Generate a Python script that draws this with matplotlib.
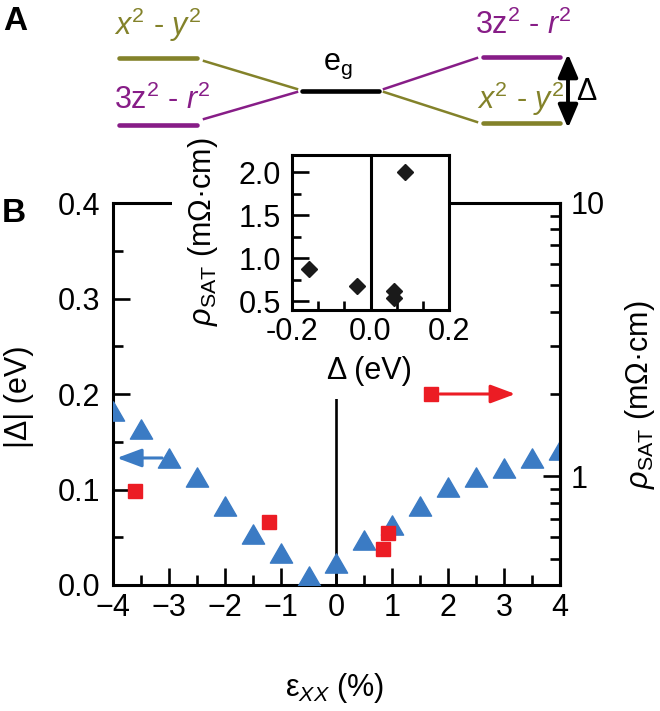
import matplotlib
matplotlib.use("Agg")
import matplotlib.pyplot as plt
from matplotlib.ticker import MultipleLocator, FixedLocator, LogLocator, NullFormatter, FixedFormatter
from matplotlib.patches import Rectangle
from matplotlib.path import Path
import numpy as np

plt.rcParams['font.family'] = ['Liberation Sans', 'DejaVu Sans']
plt.rcParams['mathtext.fontset'] = 'custom'
plt.rcParams['mathtext.rm'] = 'Liberation Sans'
plt.rcParams['mathtext.it'] = 'Liberation Sans:italic'
plt.rcParams['mathtext.bf'] = 'Liberation Sans:bold'

# ---------------- data ----------------
strain_tri = [-4, -3.5, -3, -2.5, -2, -1.5, -1, -0.5, 0, 0.5, 1, 1.5, 2, 2.5, 3, 3.5, 4]
delta_abs = [0.182, 0.163, 0.133, 0.113, 0.083, 0.053, 0.033, 0.009, 0.023,
             0.047, 0.063, 0.083, 0.103, 0.113, 0.123, 0.133, 0.141]
strain_sq = [-3.6, -1.2, 0.93, 0.83, 1.7]
rho_sat = [0.88, 0.68, 0.62, 0.54, 2.0]
delta_inset = [-0.156, -0.035, 0.059, 0.059, 0.089]

x_ticks = [-4, -3, -2, -1, 0, 1, 2, 3, 4]
y_ticks = [0.0, 0.1, 0.2, 0.3, 0.4]
inset_yticks = [0.5, 1.0, 1.5, 2.0]
inset_xticks = [-0.2, 0.0, 0.2]

BLUE = '#3B7BC4'
RED = '#EC1C24'
OLIVE = '#83822A'
PURPLE = '#871D87'
FS = 22

W, H = 660, 711
fig = plt.figure(figsize=(W / 100, H / 100), dpi=100)

def fx(px):
    return px / W

def fy(py):
    return 1 - py / H

# ---------------- main axes ----------------
L, R, T, B = 113, 560, 203, 585
ax = fig.add_axes([fx(L), fy(B), fx(R - L), (B - T) / H])
ax.set_xlim(-4, 4)
ax.set_ylim(0, 0.4)
ax.set_xticks(x_ticks)
ax.set_yticks(y_ticks)
ax.set_yticklabels([f'{v:.1f}' for v in y_ticks])
ax.xaxis.set_minor_locator(MultipleLocator(0.5))
ax.yaxis.set_minor_locator(MultipleLocator(0.05))
ax.tick_params(which='both', direction='in', width=1.9, top=False, right=False, labelsize=FS)
ax.tick_params(which='major', length=12)
ax.tick_params(which='minor', length=7)
ax.tick_params(axis='x', pad=6)
ax.tick_params(axis='y', pad=9)
for s in ax.spines.values():
    s.set_linewidth(2.2)
ax.axvline(0, color='black', lw=1.9, zorder=2)

# custom equilateral triangle marker
tri = Path([(-1, -0.866), (1, -0.866), (0, 0.866), (-1, -0.866)],
           [Path.MOVETO, Path.LINETO, Path.LINETO, Path.CLOSEPOLY])
ax.plot(strain_tri, delta_abs, linestyle='none', marker=tri, markersize=16,
        color=BLUE, zorder=4)
ax.annotate('', xy=(-3.93, delta_abs[2]), xytext=(-3.12, delta_abs[2]),
            arrowprops=dict(arrowstyle='-|>,head_length=0.75,head_width=0.28',
                            color=BLUE, lw=2.2, mutation_scale=20,
                            shrinkA=0, shrinkB=0), zorder=4)

# white mask behind the inset labels (covers top frame and the zero line)
mask = Rectangle((fx(172), fy(399)), fx(449 - 172), (399 - 140) / H,
                 transform=fig.transFigure, facecolor='white', edgecolor='none',
                 zorder=3, clip_on=False)
ax.add_patch(mask)

# ---------------- right log axis ----------------
ax2 = ax.twinx()
ax2.set_yscale('log')
ax2.set_ylim(0.4, 10)
ax2.yaxis.set_major_locator(FixedLocator([1, 10]))
ax2.yaxis.set_major_formatter(FixedFormatter(['1', '10']))
ax2.yaxis.set_minor_locator(LogLocator(base=10, subs=np.arange(2, 10)))
ax2.yaxis.set_minor_formatter(NullFormatter())
ax2.tick_params(which='both', direction='in', width=1.9, labelsize=FS, pad=8)
ax2.tick_params(which='major', length=12)
ax2.tick_params(which='minor', length=7)
for k in ['top', 'left', 'bottom']:
    ax2.spines[k].set_visible(False)
ax2.spines['right'].set_linewidth(2.2)
ax2.plot(strain_sq, rho_sat, linestyle='none', marker='s', markersize=10.5,
         color=RED, zorder=4)
ax2.annotate('', xy=(3.2, rho_sat[4]), xytext=(1.85, rho_sat[4]),
             arrowprops=dict(arrowstyle='-|>,head_length=0.75,head_width=0.28',
                             color=RED, lw=2.2, mutation_scale=20,
                             shrinkA=0, shrinkB=0))

# axis labels
fig.text(fx(19), fy(397), '|Δ| (eV)', rotation=90, ha='center', va='center', fontsize=FS)
fig.text(fx(640), fy(395), r'$\rho_{\mathrm{SAT}}$ (mΩ·cm)', rotation=90,
         ha='center', va='center', fontsize=FS)
fig.text(fx(335), fy(688), r'ε$_{XX}$ (%)', ha='center', va='center', fontsize=FS)

# ---------------- inset ----------------
IL, IR, IT, IB = 292, 449, 155, 310
axi = fig.add_axes([fx(IL), fy(IB), fx(IR - IL), (IB - IT) / H])
axi.set_xlim(-0.2, 0.2)
axi.set_ylim(0.4, 2.2)
axi.set_xticks(inset_xticks)
axi.set_xticklabels([f'{v:.1f}' for v in inset_xticks])
axi.set_yticks(inset_yticks)
axi.set_yticklabels([f'{v:.1f}' for v in inset_yticks])
axi.xaxis.set_minor_locator(MultipleLocator(0.2 / 3))
axi.yaxis.set_minor_locator(MultipleLocator(0.25))
axi.tick_params(which='both', direction='in', width=1.9, top=False, right=False, labelsize=FS)
axi.tick_params(which='major', length=12)
axi.tick_params(which='minor', length=6.5)
axi.tick_params(axis='x', pad=5)
axi.tick_params(axis='y', pad=8)
for s in axi.spines.values():
    s.set_linewidth(2.2)
axi.axvline(0, color='black', lw=2.2)
axi.plot(delta_inset, rho_sat, linestyle='none', marker='D', markersize=8.5,
         color='#1a1a1a', zorder=4)
fig.text(fx(203), fy(232), r'$\rho_{\mathrm{SAT}}$ (mΩ·cm)', rotation=90,
         ha='center', va='center', fontsize=FS, zorder=5)
fig.text(fx(369), fy(371), 'Δ (eV)', ha='center', va='center', fontsize=FS)

# ---------------- panel A schematic ----------------
axA = fig.add_axes([0, 0, 1, 1], zorder=-1)
axA.set_xlim(0, W)
axA.set_ylim(H, 0)
axA.axis('off')

lvl_lw = 3.3
con_lw = 1.8
# levels: (x0, x1, y, colour)
levels = [(119, 197, 58, OLIVE), (119, 197, 125, PURPLE),
          (302, 379, 91, 'black'),
          (483, 560, 57, PURPLE), (483, 560, 123, OLIVE)]
for x0, x1, y, c in levels:
    axA.plot([x0, x1], [y, y], color=c, lw=lvl_lw, solid_capstyle='round')
connectors = [((204, 61), (297, 89), OLIVE), ((204, 119), (297, 92), PURPLE),
              ((384, 89), (477, 58), PURPLE), ((384, 92), (477, 122), OLIVE)]
for (xa, ya), (xb, yb), c in connectors:
    axA.plot([xa, xb], [ya, yb], color=c, lw=con_lw)

axA.text(158, 25, r'$x^2$ - $y^2$', color=OLIVE, fontsize=FS, ha='center', va='center')
axA.text(162, 100, r'3z$^2$ - $r^2$', color=PURPLE, fontsize=FS, ha='center', va='center')
axA.text(523, 25, r'3z$^2$ - $r^2$', color=PURPLE, fontsize=FS, ha='center', va='center')
axA.text(521, 99, r'$x^2$ - $y^2$', color=OLIVE, fontsize=FS, ha='center', va='center')
axA.text(338, 66, r'e$_{\mathrm{g}}$', color='black', fontsize=FS, ha='center', va='center')
axA.annotate('', xy=(568, 54), xytext=(568, 128),
             arrowprops=dict(arrowstyle='<|-|>,head_length=0.7,head_width=0.3',
                             color='black', lw=2.8, mutation_scale=20,
                             shrinkA=0, shrinkB=0))
axA.text(586, 92, 'Δ', color='black', fontsize=FS, ha='center', va='center')

fig.text(fx(15), fy(21), 'A', fontsize=24, fontweight='bold', ha='center', va='center')
fig.text(fx(14), fy(214), 'B', fontsize=24, fontweight='bold', ha='center', va='center')

fig.savefig('out.png', dpi=100)
